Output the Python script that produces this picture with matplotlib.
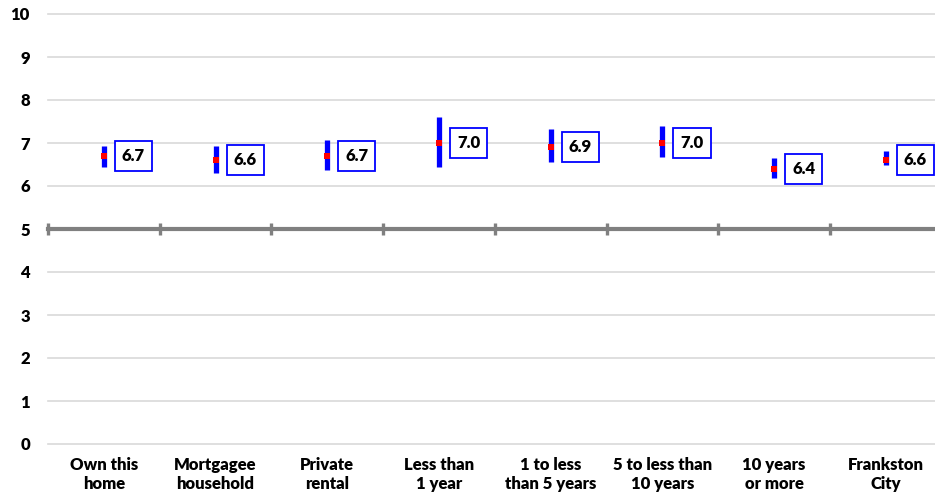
import matplotlib
matplotlib.use("Agg")
import matplotlib.pyplot as plt

categories = ["Own this\nhome", "Mortgagee\nhousehold", "Private\nrental", "Less than\n1 year",
              "1 to less\nthan 5 years", "5 to less than\n10 years", "10 years\nor more", "Frankston\nCity"]
means = [6.7, 6.6, 6.7, 7.0, 6.9, 7.0, 6.4, 6.6]
lower = [6.45, 6.30, 6.37, 6.45, 6.55, 6.68, 6.18, 6.50]
upper = [6.93, 6.93, 7.07, 7.61, 7.32, 7.40, 6.64, 6.82]
yticks = list(range(0, 11))
title = "Average satisfaction by tenure (very dissatisfied (0) to very satisfied (10))"

plt.rcParams['font.family'] = ['Lato', 'DejaVu Sans']
WEIGHT = 800

W, H = 935, 499
fig = plt.figure(figsize=(W / 100, H / 100), dpi=100)
left = 48 / W
right = 941.6 / W
bottom = 1 - 444 / H
top = 1 - 14 / H
ax = fig.add_axes([left, bottom, right - left, top - bottom])
ax.set_xlim(-0.5, len(categories) - 0.5)
ax.set_ylim(0, 10)

for s in ax.spines.values():
    s.set_visible(False)

for y in yticks:
    if y != 5:
        ax.axhline(y, color="#d9d9d9", lw=1.2, zorder=1, clip_on=False)
ax.axhline(5, color="#808080", lw=3.0, zorder=2, clip_on=False)
bounds = [i - 0.5 for i in range(len(categories))]
ax.vlines(bounds, 5 - 0.15, 5 + 0.15, color="#808080", lw=2.4, zorder=2, clip_on=False)

x = list(range(len(categories)))
ax.vlines(x, lower, upper, color="#0000ff", lw=3.8, zorder=3)
ax.plot(x, means, ls="none", marker="s", ms=4.3, color="#ff0000", mec="#ff0000", mew=0, zorder=4)

for xi, m in zip(x, means):
    ax.annotate(f"{m:.1f}", xy=(xi, m), xytext=(13.0, 0), textcoords="offset points",
                ha="left", va="center", fontsize=12, fontweight=WEIGHT, color="black",
                bbox=dict(boxstyle="square,pad=0.42", fc="white", ec="#0000ff", lw=1.3),
                zorder=5)

ax.set_yticks(yticks)
ax.set_yticklabels([str(t) for t in yticks], fontsize=12, fontweight=WEIGHT)
ax.set_xticks(x)
ax.set_xticklabels(categories, fontsize=12, fontweight=WEIGHT, linespacing=1.25)
ax.tick_params(axis="y", length=0, pad=13.0)
ax.tick_params(axis="x", length=0, pad=9.5)

# title sits mostly above the figure edge, as in the reference (only descenders visible)
fig.text(0.565, 1.0 + 3.5 / H, title, ha="center", va="baseline", fontsize=10.5, fontweight=WEIGHT)

fig.savefig("out.png", dpi=100)
